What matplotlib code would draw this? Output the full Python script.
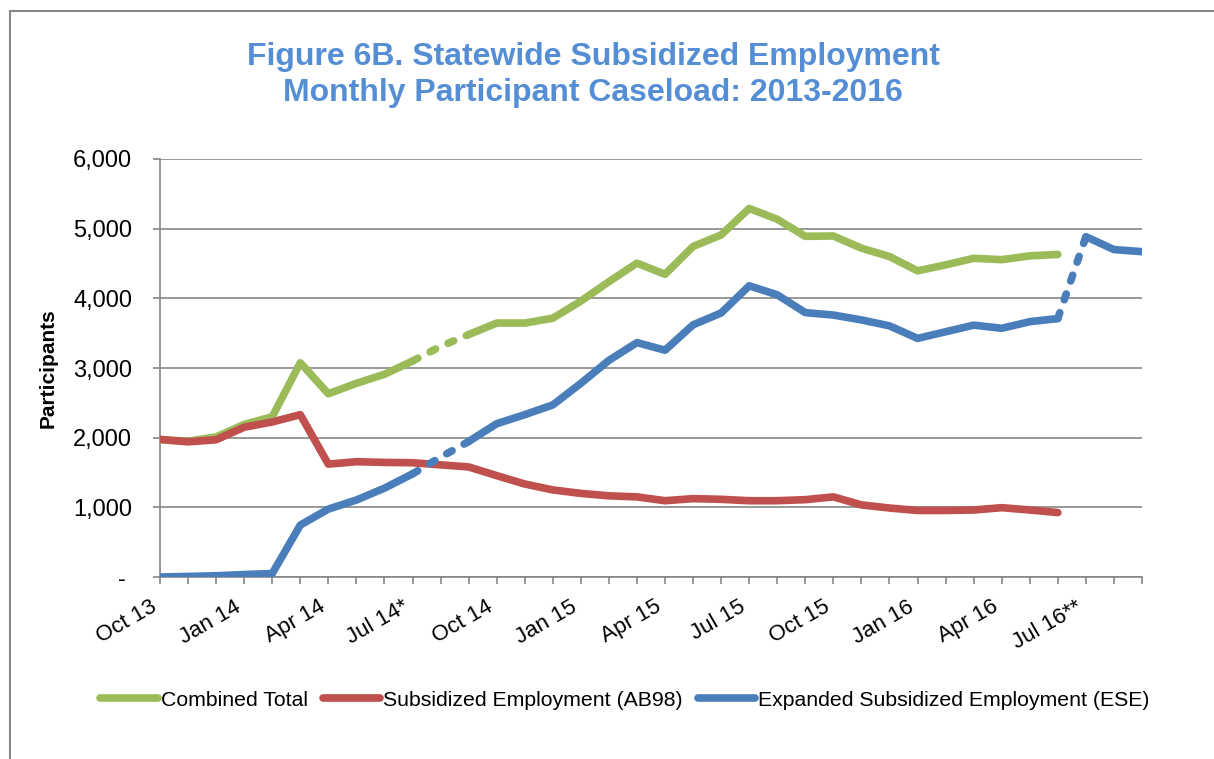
import matplotlib
matplotlib.use('Agg')
from matplotlib import pyplot as plt
from matplotlib.patches import Rectangle
import numpy as np

# monthly categories, Oct 2013 .. Sep 2016
months = ['Oct 13', 'Nov 13', 'Dec 13', 'Jan 14', 'Feb 14', 'Mar 14', 'Apr 14', 'May 14', 'Jun 14',
          'Jul 14*', 'Aug 14', 'Sep 14', 'Oct 14', 'Nov 14', 'Dec 14', 'Jan 15', 'Feb 15', 'Mar 15',
          'Apr 15', 'May 15', 'Jun 15', 'Jul 15', 'Aug 15', 'Sep 15', 'Oct 15', 'Nov 15', 'Dec 15',
          'Jan 16', 'Feb 16', 'Mar 16', 'Apr 16', 'May 16', 'Jun 16', 'Jul 16**', 'Aug 16', 'Sep 16']

combined = [1970, 1950, 2010, 2190, 2300, 3075, 2630, 2780, 2910,
            3100, 3310, 3480, 3645, 3645, 3715, 3960, 4240, 4505,
            4345, 4745, 4910, 5290, 5135, 4890, 4895, 4720, 4600,
            4395, 4480, 4575, 4555, 4610, 4630, None, None, None]

ab98 = [1975, 1940, 1970, 2150, 2225, 2330, 1620, 1655, 1645,
        1640, 1610, 1580, 1455, 1335, 1250, 1200, 1165, 1150,
        1095, 1125, 1115, 1095, 1095, 1110, 1150, 1035, 990,
        955, 955, 962, 995, 962, 925, None, None, None]

ese = [0, 8, 18, 35, 50, 745, 975, 1105, 1275,
       1480, 1720, 1945, 2200, 2330, 2470, 2780, 3110, 3365,
       3255, 3620, 3790, 4180, 4050, 3795, 3760, 3690, 3605,
       3425, 3520, 3615, 3570, 3665, 3710, 4885, 4700, 4670]

# (label, values, colour, index spans drawn dashed)
series = [
    ('Combined Total', combined, '#9BBB59', [(9, 11)]),
    ('Subsidized Employment (AB98)', ab98, '#C0504D', []),
    ('Expanded Subsidized Employment (ESE)', ese, '#4A7EBB', [(9, 11), (32, 33)]),
]

plt.rcParams['font.family'] = ['Liberation Sans', 'DejaVu Sans']

fig = plt.figure(figsize=(12.14, 7.59), dpi=100)
ax = fig.add_axes([160 / 1214, 1 - 577 / 759, (1142 - 160) / 1214, (577 - 159) / 759])

x = np.arange(len(months))
lw = 5.5
for name, vals, color, dashed in series:
    y = np.array([np.nan if v is None else v for v in vals], dtype=float)
    # group consecutive steps i -> i+1 by style
    groups = []
    for i in range(len(x) - 1):
        if np.isnan(y[i]) or np.isnan(y[i + 1]):
            continue
        is_dash = any(a <= i < b for a, b in dashed)
        if groups and groups[-1][0] == is_dash and groups[-1][1][-1] == i:
            groups[-1][1].append(i + 1)
        else:
            groups.append((is_dash, [i, i + 1]))
    first = True
    for is_dash, idx in groups:
        if is_dash:
            ax.plot(x[idx], y[idx], color=color, linewidth=lw, dashes=(0.8, 1.8),
                    dash_capstyle='round', zorder=3)
        else:
            ax.plot(x[idx], y[idx], color=color, linewidth=lw, solid_capstyle='round',
                    solid_joinstyle='round', zorder=3, label=name if first else None)
            first = False

ax.set_xlim(0, len(months) - 1)
ax.set_ylim(0, 6000)
ax.set_yticks(range(0, 6001, 1000))
ax.set_yticklabels(['- '] + ['{:,}'.format(v) for v in range(1000, 6001, 1000)])
ax.set_xticks(x)
ax.set_xticklabels([m if i % 3 == 0 else '' for i, m in enumerate(months)],
                   rotation=30, ha='right', va='top')

ax.grid(axis='y', color='#868686', linewidth=1.2)
ax.set_axisbelow(True)
for side in ['top', 'right']:
    ax.spines[side].set_visible(False)
for side in ['left', 'bottom']:
    ax.spines[side].set_color('#868686')
    ax.spines[side].set_linewidth(1.2)
ax.tick_params(axis='both', colors='#868686', width=1.2, length=5, labelcolor='black')
ax.tick_params(axis='y', pad=15, labelsize=17)
ax.tick_params(axis='x', pad=9, labelsize=16)

ax.set_ylabel('Participants', fontsize=15, fontweight='bold')
ax.yaxis.set_label_coords(-102 / 982, 0.5)

fig.text(593 / 1214, 1 - 75 / 759,
         'Figure 6B. Statewide Subsidized Employment\nMonthly Participant Caseload: 2013-2016',
         ha='center', va='center', fontsize=23, fontweight='bold', color='#558ED5',
         linespacing=1.25)

fig.legend(loc='center', bbox_to_anchor=(625 / 1214, 1 - 700 / 759), ncol=3, frameon=False,
           fontsize=15.3, handlelength=2.7, handletextpad=0.15, columnspacing=0.7)

fig.patches.append(Rectangle((10 / 1214, -0.05), 1.1, 1 - 11 / 759 + 0.05, transform=fig.transFigure,
                             fill=False, edgecolor='#868686', linewidth=1.5))

plt.savefig('out.png')
